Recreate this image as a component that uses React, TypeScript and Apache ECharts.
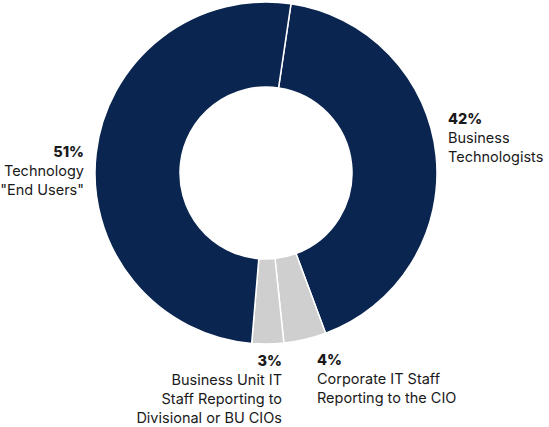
import React, { useEffect, useRef } from "react";
import * as echarts from "echarts";

const categories = [
  "Business\nTechnologists",
  "Corporate IT Staff\nReporting to the CIO",
  "Business Unit IT\nStaff Reporting to\nDivisional or BU CIOs",
  "Technology\n\"End Users\"",
];
const values = [42, 4, 3, 51];
const colors = ["#0a2550", "#cfcfcf", "#cfcfcf", "#0a2550"];

const labelPlacement = [
  { x: 448, y: 109, align: "left" },
  { x: 317, y: 350, align: "left" },
  { x: 282, y: 351, align: "right" },
  { x: 84, y: 142, align: "right" },
];

export default function App() {
  const ref = useRef<HTMLDivElement>(null);
  useEffect(() => {
    document.body.style.margin = "0";
    const chart = echarts.init(ref.current!, null, { renderer: "svg" });
    const font = "Inter, 'Noto Sans', sans-serif";
    chart.setOption({
      animation: false,
      series: [
        {
          type: "pie",
          center: [266, 173],
          radius: [86, 171],
          startAngle: 81.6,
          clockwise: true,
          avoidLabelOverlap: false,
          itemStyle: { borderColor: "#ffffff", borderWidth: 1.5 },
          labelLine: { show: false },
          emphasis: { disabled: true },
          label: {
            show: true,
            position: "outside",
            formatter: (p: any) => `{pct|${p.value}%}\n{name|${p.name}}`,
          },
          labelLayout: (params: any) => {
            const lp = labelPlacement[params.dataIndex];
            return { x: lp.x, y: lp.y, align: lp.align, verticalAlign: "top", hideOverlap: false, moveOverlap: false };
          },
          data: categories.map((name, i) => ({
            name,
            value: values[i],
            itemStyle: { color: colors[i] },
            label: {
              align: labelPlacement[i].align,
              rich: {
                pct: { fontFamily: font, fontSize: 14.5, fontWeight: 800, color: "#1a1a1a", lineHeight: 19, align: labelPlacement[i].align },
                name: { fontFamily: font, fontSize: 14.5, fontWeight: 400, color: "#1a1a1a", lineHeight: 19, align: labelPlacement[i].align },
              },
            },
          })),
        },
      ],
    });
    return () => chart.dispose();
  }, []);
  return <div ref={ref} style={{ width: 549, height: 427 }} />;
}
